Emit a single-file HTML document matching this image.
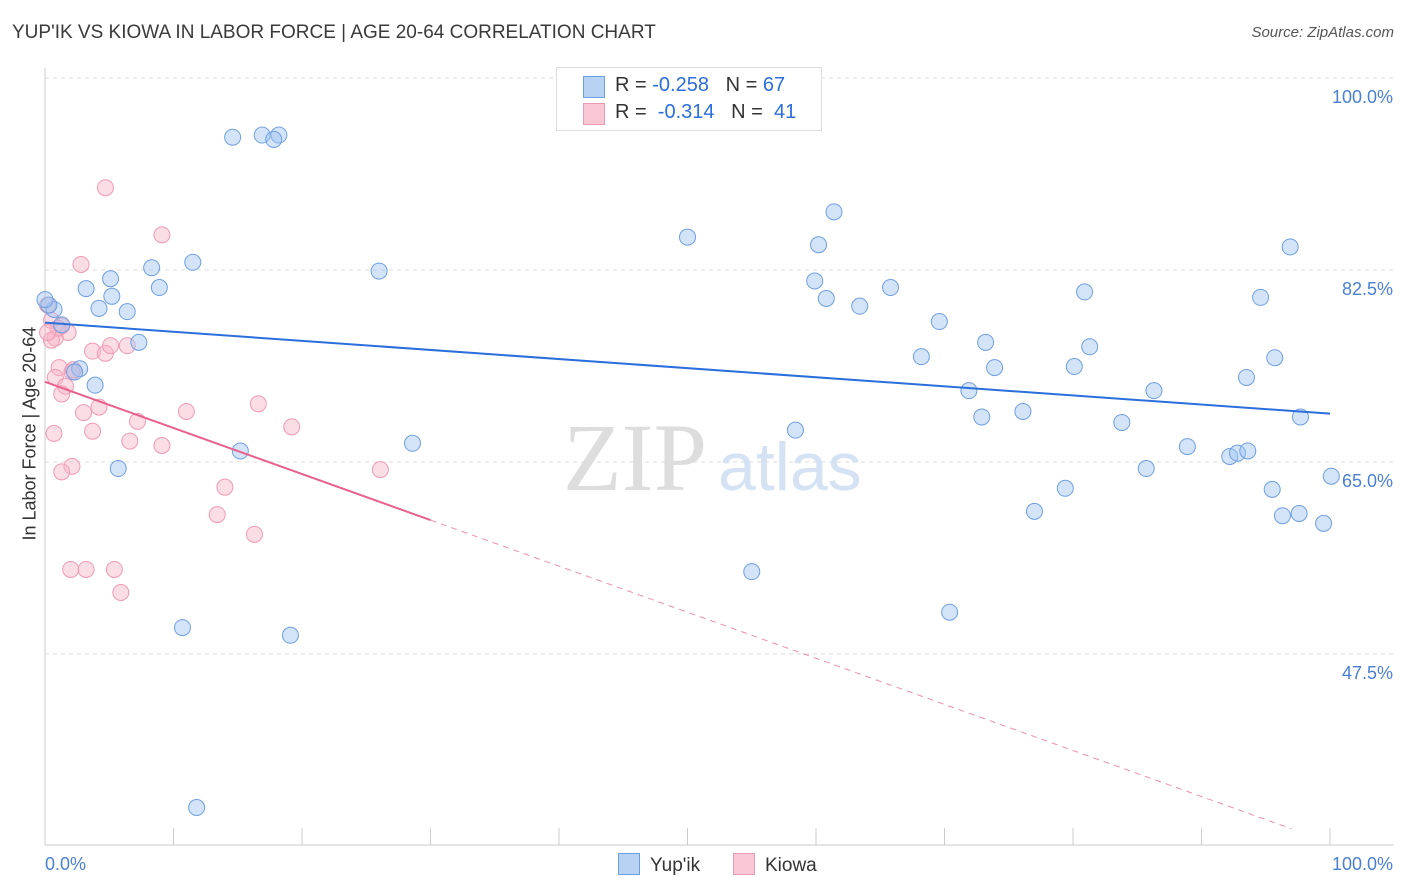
<!DOCTYPE html>
<html><head><meta charset="utf-8"><style>
body{margin:0;background:#fff;font-family:"Liberation Sans",sans-serif;}
#wrap{position:relative;width:1406px;height:892px;overflow:hidden}
.t{position:absolute;white-space:nowrap}
</style></head><body>
<div id="wrap">
<div class="t" style="left:12px;top:22px;font-size:19px;color:#3a3a3a">YUP'IK VS KIOWA IN LABOR FORCE | AGE 20-64 CORRELATION CHART</div>
<div class="t" style="right:12px;top:24px;font-size:15px;color:#555;font-style:italic">Source: ZipAtlas.com</div>
<div class="t" style="left:-55px;top:445px;font-size:18px;color:#333;transform:rotate(-90deg);width:170px;text-align:center">In Labor Force | Age 20-64</div>
<svg id="svg" width="1406" height="892" style="position:absolute;left:0;top:0"></svg>
</div>
<script>
const blueX=[41.6,14.6,16.9,18.2,17.8,50.0,61.4,60.2,96.9,11.5,8.3,5.1,26.0,3.2,8.9,5.2,4.2,6.4,0.7,0.3,59.9,60.8,63.4,65.8,80.9,94.6,69.6,73.2,68.2,81.3,80.1,73.9,95.7,93.5,71.9,86.3,72.9,76.1,83.8,97.7,58.4,7.3,2.7,3.9,28.6,15.2,5.7,88.9,92.2,92.8,93.6,85.7,100.1,79.4,95.5,77.0,96.3,97.6,99.5,55.0,70.4,10.7,19.1,11.8,1.3,0.0,2.3];
const blueY=[99.9,94.6,94.8,94.8,94.4,85.5,87.8,84.8,84.6,83.2,82.7,81.7,82.4,80.8,80.9,80.1,79.0,78.7,78.9,79.3,81.5,79.9,79.2,80.9,80.5,80.0,77.8,75.9,74.6,75.5,73.7,73.6,74.5,72.7,71.5,71.5,69.1,69.6,68.6,69.1,67.9,75.9,73.5,72.0,66.7,66.0,64.4,66.4,65.5,65.8,66.0,64.4,63.7,62.6,62.5,60.5,60.1,60.3,59.4,55.0,51.3,49.9,49.2,33.5,77.5,79.8,73.2];
const pinkX=[4.7,9.1,2.8,0.2,0.5,1.3,1.8,0.8,3.7,4.7,5.1,6.4,1.1,0.8,2.1,1.6,1.3,4.2,3.0,11.0,16.6,7.2,3.7,0.7,6.6,9.1,19.2,2.1,1.3,26.1,14.0,13.4,16.3,2.0,3.2,5.4,5.9,0.5,1.0,2.2,0.2];
const pinkY=[90.0,85.7,83.0,79.3,77.9,77.4,76.8,76.3,75.1,74.9,75.6,75.6,73.6,72.7,73.2,71.9,71.2,70.0,69.5,69.6,70.3,68.7,67.8,67.6,66.9,66.5,68.2,64.6,64.1,64.3,62.7,60.2,58.4,55.2,55.2,55.2,53.1,76.1,77.2,73.4,76.8];
const blueTrend=[77.7,69.4];
const pinkTrend=[72.3,-0.42];
const yTicks=[100,82.5,65,47.5];
const yTickLabels=["100.0%","82.5%","65.0%","47.5%"];
const xTickLabels=["0.0%","100.0%"];
const X=v=>45+v*12.85, Y=v=>78+(100-v)*10.97;
const s=document.getElementById('svg'),NS='http://www.w3.org/2000/svg';
function add(tag,a,txt){const e=document.createElementNS(NS,tag);for(const k in a)e.setAttribute(k,a[k]);if(txt!=null)e.textContent=txt;s.appendChild(e);return e;}
yTicks.forEach((v,i)=>{
 let g=add('line',{x1:45,x2:1394,y1:Y(v),y2:Y(v),stroke:'#ddd','stroke-dasharray':'4,4'});
 
 
 let t=add('text',{x:1393,y:Y(v)+25,'text-anchor':'end','font-size':18,fill:'#4a7fd4','font-family':'Liberation Sans'},yTickLabels[i]);
 
 
});
let ax=add('line',{x1:45,x2:1394,y1:845,y2:845,stroke:'#ccc'});


let ay=add('line',{x1:45,x2:45,y1:68,y2:845,stroke:'#ccc'});


for(let i=0;i<=10;i++){let tk=add('line',{x1:X(i*10),x2:X(i*10),y1:828,y2:845,stroke:'#ccc'});
 
 }
let xl0=add('text',{x:45,y:870,'font-size':18,fill:'#4a7fd4','font-family':'Liberation Sans'},xTickLabels[0]);


let xl1=add('text',{x:1393,y:870,'text-anchor':'end','font-size':18,fill:'#4a7fd4','font-family':'Liberation Sans'},xTickLabels[1]);


let w1=add('text',{x:635,y:490,'text-anchor':'middle','font-size':96,fill:'#ddd','font-family':'Liberation Serif'},'ZIP');


let w2=add('text',{x:718,y:490,'font-size':68,fill:'#d4e2f4','font-family':'Liberation Sans'},'atlas');


pinkX.forEach((x,i)=>{let c=add('circle',{cx:X(x),cy:Y(pinkY[i]),r:8,fill:'rgba(247,180,200,0.45)',stroke:'#ef9ab5','stroke-width':1});
 
 });
blueX.forEach((x,i)=>{let c=add('circle',{cx:X(x),cy:Y(blueY[i]),r:8,fill:'rgba(160,195,240,0.45)',stroke:'#6e9fe0','stroke-width':1});
 
 });
let bl=add('line',{x1:X(0),y1:Y(blueTrend[0]),x2:X(100),y2:Y(blueTrend[1]),stroke:'#2a6fdb','stroke-width':2});


let pl=add('line',{x1:X(0),y1:Y(pinkTrend[0]),x2:X(30),y2:Y(pinkTrend[0]+pinkTrend[1]*30),stroke:'#e8608c','stroke-width':2});


let pd=add('line',{x1:X(30),y1:Y(pinkTrend[0]+pinkTrend[1]*30),x2:X(97),y2:Y(pinkTrend[0]+pinkTrend[1]*97),stroke:'#e8608c','stroke-width':1,'stroke-dasharray':'6,5','opacity':0.7});


</script>
<div class="t" style="left:556px;top:67px;width:264px;height:62px;border:1px solid #ddd;background:#fff;font-size:20px;color:#333">
 <div style="position:absolute;left:26px;top:8px;width:20px;height:20px;background:#b8d2f4;border:1px solid #6e9fe0"></div>
 <div style="position:absolute;left:58px;top:6px">R = <span style="color:#2a6fdb">-0.258</span>&nbsp;&nbsp;&nbsp;N = <span style="color:#2a6fdb">67</span></div>
 <div style="position:absolute;left:26px;top:35px;width:20px;height:20px;background:#f9c6d5;border:1px solid #ef9ab5"></div>
 <div style="position:absolute;left:58px;top:33px">R = &nbsp;<span style="color:#2a6fdb">-0.314</span>&nbsp;&nbsp;&nbsp;N = &nbsp;<span style="color:#2a6fdb">41</span></div>
</div>
<div class="t" style="left:618px;top:853px;font-size:19px;color:#333"><span style="display:inline-block;width:20px;height:20px;background:#b8d2f4;border:1px solid #6e9fe0;vertical-align:-4px;margin-right:10px"></span>Yup'ik</div>
<div class="t" style="left:733px;top:853px;font-size:19px;color:#333"><span style="display:inline-block;width:20px;height:20px;background:#f9c6d5;border:1px solid #ef9ab5;vertical-align:-4px;margin-right:10px"></span>Kiowa</div>
</body></html>
